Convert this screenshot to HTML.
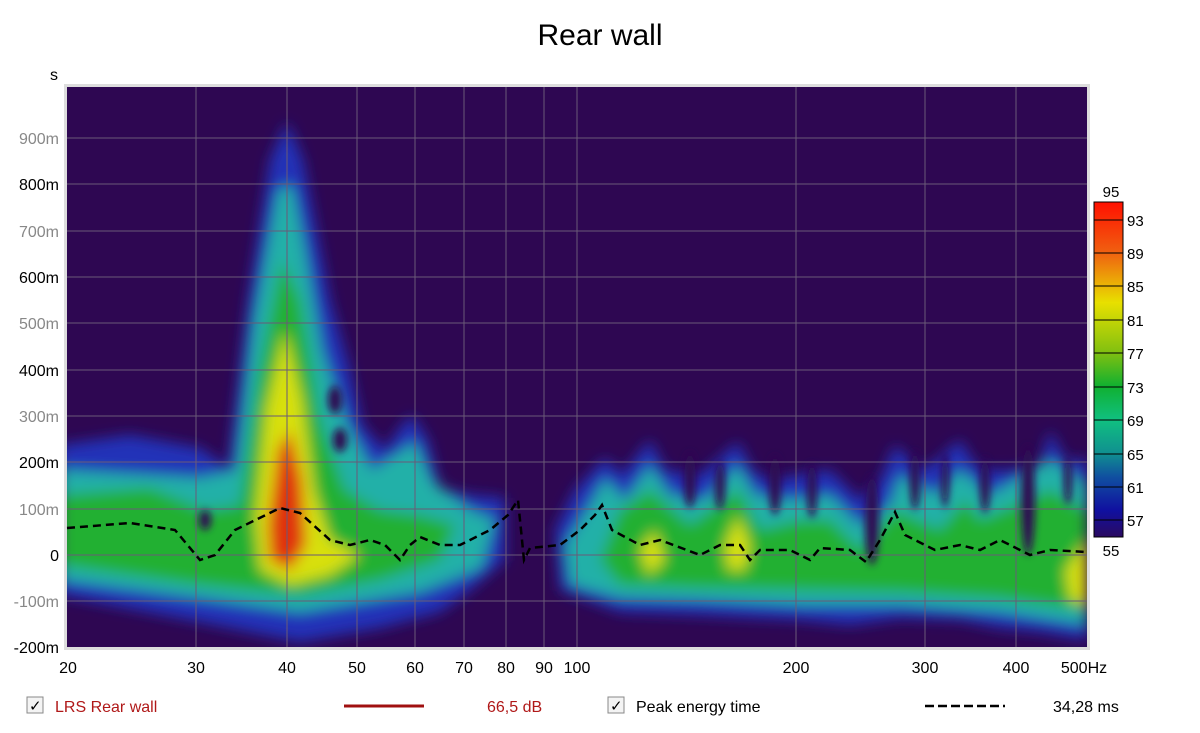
<!DOCTYPE html>
<html><head><meta charset="utf-8"><style>
body{margin:0;background:#fff;width:1200px;height:728px;overflow:hidden;font-family:"Liberation Sans",sans-serif}
</style></head><body>
<svg width="1200" height="728" viewBox="0 0 1200 728" xmlns="http://www.w3.org/2000/svg" font-family="Liberation Sans, sans-serif">
<defs>
<filter id="b" x="-20%" y="-20%" width="140%" height="140%"><feGaussianBlur stdDeviation="7"/></filter>
<filter id="b2" x="-50%" y="-20%" width="200%" height="140%"><feGaussianBlur stdDeviation="4"/></filter>
<clipPath id="c"><rect x="67" y="87" width="1020" height="560"/></clipPath>
<linearGradient id="cb" x1="0" y1="0" x2="0" y2="1">
<stop offset="0" stop-color="#ff1000"/><stop offset="0.15" stop-color="#f06010"/><stop offset="0.3" stop-color="#e8e000"/><stop offset="0.45" stop-color="#80c010"/><stop offset="0.55" stop-color="#10b030"/><stop offset="0.65" stop-color="#10c080"/><stop offset="0.75" stop-color="#109090"/><stop offset="0.82" stop-color="#1050a0"/><stop offset="0.92" stop-color="#1010a0"/><stop offset="1" stop-color="#2a0a60"/>
</linearGradient>
</defs>
<rect x="64" y="84" width="1026" height="566" fill="#ddd"/>
<rect x="67" y="87" width="1020" height="560" fill="#2e0752"/>
<g clip-path="url(#c)">
<g filter="url(#b)">
<path fill="#2030b8" d="M60,445 L130,435 200,448 228,468 248,300 270,160 287,122 303,160 330,300 350,370 362,425 385,450 400,428 412,415 428,440 440,488 470,495 505,498 505,560 470,590 440,612 380,628 300,642 200,622 60,595 Z"/>
<path fill="#20b0a8" d="M60,470 L200,478 236,470 254,320 278,190 292,185 305,250 322,350 345,420 372,470 400,452 415,442 432,482 470,510 495,520 482,568 420,592 300,612 200,598 60,580 Z"/>
<path fill="#20b030" d="M60,495 L150,488 205,510 240,505 258,380 282,260 300,300 320,420 345,490 380,510 420,515 455,525 440,560 380,580 300,595 200,585 60,565 Z"/>
<path fill="#d8e010" d="M255,520 L266,410 285,330 302,400 314,490 330,540 360,555 330,575 290,585 260,570 Z"/>
<path fill="#e03010" d="M268,525 L278,450 290,430 302,480 306,545 290,570 270,560 Z"/>
<path fill="#2030b8" d="M555,530 L575,490 605,458 622,475 650,440 665,470 700,475 738,442 752,470 770,480 800,475 830,470 860,500 880,480 895,445 920,470 935,462 960,440 975,465 990,470 1010,470 1040,465 1050,430 1065,460 1087,460 1087,640 1040,632 1000,628 960,620 900,618 850,625 800,620 700,615 620,612 560,590 Z"/>
<path fill="#20b0a8" d="M565,545 L590,505 605,478 625,500 650,465 670,495 705,500 738,465 755,495 790,500 830,495 860,525 890,505 900,475 935,495 960,470 990,495 1050,460 1087,485 1087,625 1000,612 900,605 800,605 700,600 620,598 570,585 Z"/>
<path fill="#20b030" d="M600,560 L620,510 650,490 690,525 738,490 760,530 800,520 830,520 860,550 895,510 940,530 965,500 980,520 1050,490 1087,510 1087,610 1000,598 900,592 800,590 700,588 620,585 Z"/>
<path fill="#d8e010" d="M725,545 L738,515 750,545 745,570 728,570 Z M1065,570 L1087,540 1087,605 1070,600 Z M640,550 L655,530 665,560 648,575 Z"/>
</g>
<g filter="url(#b2)" fill="#2e0752">
<ellipse cx="335" cy="400" rx="7" ry="14"/><ellipse cx="340" cy="440" rx="7" ry="12"/><ellipse cx="205" cy="520" rx="6" ry="10"/>
<ellipse cx="690" cy="480" rx="6" ry="28"/><ellipse cx="720" cy="485" rx="5" ry="25"/><ellipse cx="775" cy="485" rx="6" ry="30"/><ellipse cx="812" cy="490" rx="5" ry="28"/>
<ellipse cx="872" cy="520" rx="7" ry="45"/><ellipse cx="915" cy="480" rx="5" ry="30"/><ellipse cx="945" cy="480" rx="4" ry="28"/><ellipse cx="985" cy="485" rx="5" ry="28"/><ellipse cx="1028" cy="500" rx="7" ry="55"/><ellipse cx="1068" cy="480" rx="4" ry="25"/>
</g>
</g>
<g stroke="#6a5a78" stroke-width="1">
<line x1="196" y1="87" x2="196" y2="647"/><line x1="287" y1="87" x2="287" y2="647"/><line x1="357" y1="87" x2="357" y2="647"/><line x1="415" y1="87" x2="415" y2="647"/><line x1="464" y1="87" x2="464" y2="647"/><line x1="506" y1="87" x2="506" y2="647"/><line x1="544" y1="87" x2="544" y2="647"/><line x1="577" y1="87" x2="577" y2="647"/><line x1="796" y1="87" x2="796" y2="647"/><line x1="925" y1="87" x2="925" y2="647"/><line x1="1016" y1="87" x2="1016" y2="647"/>
<line x1="67" y1="138" x2="1087" y2="138"/><line x1="67" y1="184" x2="1087" y2="184"/><line x1="67" y1="231" x2="1087" y2="231"/><line x1="67" y1="277" x2="1087" y2="277"/><line x1="67" y1="323" x2="1087" y2="323"/><line x1="67" y1="370" x2="1087" y2="370"/><line x1="67" y1="416" x2="1087" y2="416"/><line x1="67" y1="462" x2="1087" y2="462"/><line x1="67" y1="509" x2="1087" y2="509"/><line x1="67" y1="555" x2="1087" y2="555"/><line x1="67" y1="601" x2="1087" y2="601"/>
</g>
<polyline fill="none" stroke="#000" stroke-width="2.5" stroke-dasharray="8,5" points="67,528 130,523 175,530 200,560 215,555 235,530 280,508 300,513 330,540 350,545 370,540 385,545 400,560 410,545 420,537 440,545 460,545 490,530 508,515 518,500 524,560 530,548 560,545 580,530 595,515 602,505 612,530 640,545 660,540 700,555 720,545 740,545 750,560 760,550 790,550 810,560 820,548 850,550 866,562 880,540 895,512 905,535 935,550 960,545 980,550 1000,540 1010,545 1030,555 1050,550 1087,552"/>
<text x="600" y="45" font-size="30" text-anchor="middle" fill="#000">Rear wall</text>
<text x="50" y="80" font-size="16" fill="#000">s</text>
<g font-size="16" text-anchor="end">
<text x="59" y="144" fill="#888">900m</text><text x="59" y="190" fill="#000">800m</text><text x="59" y="237" fill="#888">700m</text><text x="59" y="283" fill="#000">600m</text><text x="59" y="329" fill="#888">500m</text><text x="59" y="376" fill="#000">400m</text><text x="59" y="422" fill="#888">300m</text><text x="59" y="468" fill="#000">200m</text><text x="59" y="515" fill="#888">100m</text><text x="59" y="561" fill="#000">0</text><text x="59" y="607" fill="#888">-100m</text><text x="59" y="653" fill="#000">-200m</text>
</g>
<g font-size="16" text-anchor="middle" fill="#000">
<text x="68" y="673">20</text><text x="196" y="673">30</text><text x="287" y="673">40</text><text x="357" y="673">50</text><text x="415" y="673">60</text><text x="464" y="673">70</text><text x="506" y="673">80</text><text x="544" y="673">90</text><text x="577" y="673">100</text><text x="796" y="673">200</text><text x="925" y="673">300</text><text x="1016" y="673">400</text><text x="1084" y="673">500Hz</text>
</g>
<rect x="1094" y="202" width="29" height="335" fill="url(#cb)" stroke="#000"/>
<g stroke="#000"><line x1="1094" y1="220" x2="1123" y2="220"/><line x1="1094" y1="253" x2="1123" y2="253"/><line x1="1094" y1="286" x2="1123" y2="286"/><line x1="1094" y1="320" x2="1123" y2="320"/><line x1="1094" y1="353" x2="1123" y2="353"/><line x1="1094" y1="387" x2="1123" y2="387"/><line x1="1094" y1="420" x2="1123" y2="420"/><line x1="1094" y1="454" x2="1123" y2="454"/><line x1="1094" y1="487" x2="1123" y2="487"/><line x1="1094" y1="520" x2="1123" y2="520"/></g>
<g font-size="15" fill="#000">
<text x="1111" y="197" text-anchor="middle">95</text><text x="1111" y="556" text-anchor="middle">55</text>
<text x="1127" y="226">93</text><text x="1127" y="259">89</text><text x="1127" y="292">85</text><text x="1127" y="326">81</text><text x="1127" y="359">77</text><text x="1127" y="393">73</text><text x="1127" y="426">69</text><text x="1127" y="460">65</text><text x="1127" y="493">61</text><text x="1127" y="526">57</text>
</g>
<g font-size="16">
<rect x="27" y="697" width="16" height="16" fill="#f4f4f4" stroke="#888"/><text x="29" y="711" font-size="15">✓</text>
<text x="55" y="712" fill="#b01818">LRS Rear wall</text>
<line x1="344" y1="706" x2="424" y2="706" stroke="#a01010" stroke-width="3"/>
<text x="487" y="712" fill="#b01818">66,5 dB</text>
<rect x="608" y="697" width="16" height="16" fill="#f4f4f4" stroke="#888"/><text x="610" y="711" font-size="15">✓</text>
<text x="636" y="712" fill="#000">Peak energy time</text>
<line x1="925" y1="706" x2="1005" y2="706" stroke="#000" stroke-width="2.5" stroke-dasharray="9,4"/>
<text x="1053" y="712" fill="#000">34,28 ms</text>
</g>
</svg>
</body></html>
